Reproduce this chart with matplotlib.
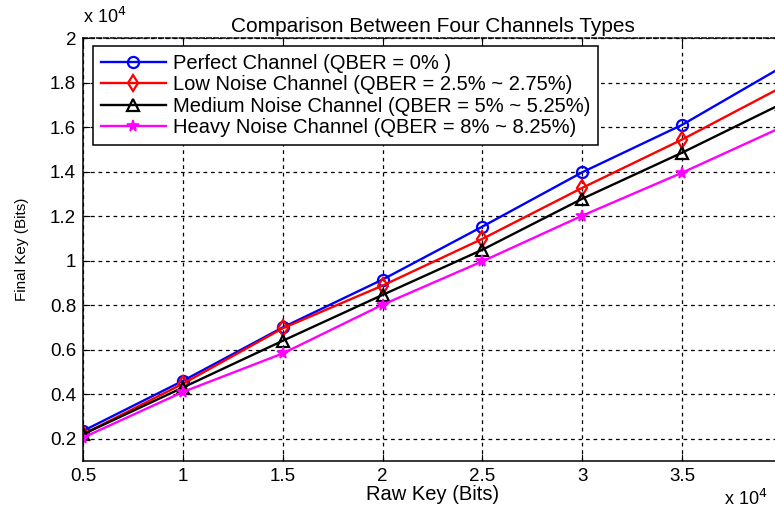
import matplotlib
matplotlib.use("Agg")
from matplotlib import pyplot as plt

plt.rcParams["font.family"] = ["Liberation Sans", "DejaVu Sans"]

# Raw key (x 10^4) and final key (x 10^4) for each channel
raw_key = [0.5, 1.0, 1.5, 2.0, 2.5, 3.0, 3.5, 4.0]
perfect = [0.235, 0.46, 0.70, 0.915, 1.153, 1.397, 1.61, 1.87]
low_noise = [0.22, 0.447, 0.696, 0.888, 1.098, 1.327, 1.544, 1.78]
medium_noise = [0.22, 0.43, 0.64, 0.846, 1.049, 1.278, 1.485, 1.705]
heavy_noise = [0.205, 0.41, 0.583, 0.802, 0.997, 1.202, 1.395, 1.60]

labels = [
    "Perfect Channel (QBER = 0% )",
    "Low Noise Channel (QBER = 2.5% ~ 2.75%)",
    "Medium Noise Channel (QBER = 5% ~ 5.25%)",
    "Heavy Noise Channel (QBER = 8% ~ 8.25%)",
]

# the 4 tick sits just past the cropped right edge, so no label is shown
x_ticks = [0.5, 1, 1.5, 2, 2.5, 3, 3.5, 4]
x_tick_labels = ["0.5", "1", "1.5", "2", "2.5", "3", "3.5", ""]
y_ticks = [0.2, 0.4, 0.6, 0.8, 1.0, 1.2, 1.4, 1.6, 1.8, 2.0]
y_tick_labels = ["0.2", "0.4", "0.6", "0.8", "1", "1.2", "1.4", "1.6", "1.8", "2"]

W, H = 775, 509
fig = plt.figure(figsize=(W / 100, H / 100), dpi=100)
# axes run past the right edge like the cropped screenshot
ax = fig.add_axes([83 / W, 48 / H, (782 - 83) / W, (461 - 38) / H])

ax.plot(raw_key, perfect, "-o", color="blue", lw=1.7, ms=8, mfc="none", mew=1.6, label=labels[0])
ax.plot(raw_key, low_noise, "-d", color="red", lw=1.7, ms=8, mfc="none", mew=1.6, label=labels[1])
ax.plot(raw_key, medium_noise, "-^", color="black", lw=1.7, ms=8, mfc="none", mew=1.6, label=labels[2])
ax.plot(raw_key, heavy_noise, "-*", color="magenta", lw=1.7, ms=8.5, mew=1.2, label=labels[3])

ax.set_xlim(0.5, 4)
ax.set_ylim(0.1, 2)
ax.set_xticks(x_ticks)
ax.set_xticklabels(x_tick_labels)
ax.set_yticks(y_ticks)
ax.set_yticklabels(y_tick_labels)
ax.tick_params(direction="in", length=5, top=True, right=True, labelsize=13.5, pad=5)

ax.grid(True, color="black", linestyle=(0, (3, 3)), linewidth=0.9)
for s in ax.spines.values():
    s.set_linewidth(1.1)
ax.spines["top"].set_linestyle((0, (3, 1.5)))

ax.set_title("Comparison Between Four Channels Types", fontsize=15, pad=4)
ax.set_xlabel("Raw Key (Bits)", fontsize=14.5, labelpad=0)
ax.set_ylabel("Final Key (Bits)", fontsize=11, labelpad=15)

fig.text(83 / W, 1 - 17 / H, r"x 10$^4$", fontsize=13, va="center", ha="left")
fig.text(724 / W, 1 - 499 / H, r"x 10$^4$", fontsize=13, va="center", ha="left")

leg = ax.legend(loc="upper left", bbox_to_anchor=(10 / 699, 1 - 8 / 423), fontsize=14.5,
                fancybox=False, framealpha=1, edgecolor="black", borderpad=0.4,
                labelspacing=0.12, handlelength=3.2, handletextpad=0.35, borderaxespad=0)
leg.get_frame().set_linewidth(1.1)

fig.savefig("out.png", dpi=100)
